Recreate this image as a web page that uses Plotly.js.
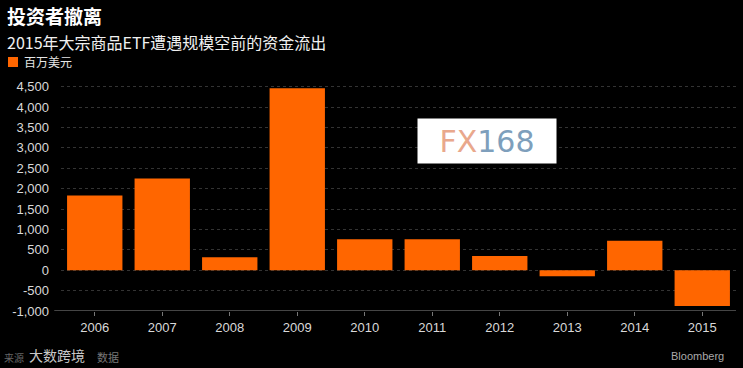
<!DOCTYPE html>
<html>
<head>
<meta charset="utf-8">
<script src="https://cdn.plot.ly/plotly-3.0.1.min.js"></script>
<style>html,body{margin:0;padding:0;background:#000;}#chart{width:743px;height:368px;}</style>
</head>
<body>
<div id="chart"></div>
<script>
const years = ['2006','2007','2008','2009','2010','2011','2012','2013','2014','2015'];
const flows = [1830, 2250, 320, 4460, 760, 760, 350, -150, 720, -880];
const seriesName = '百万美元';
const barColor = '#FF6600';
const yTickVals = [-1000,-500,0,500,1000,1500,2000,2500,3000,3500,4000,4500];
const yTickText = ['-1,000','-500','0','500','1,000','1,500','2,000','2,500','3,000','3,500','4,000','4,500'];

const cjk = '"Noto Sans CJK SC", "Liberation Sans", sans-serif';
const num = '"Liberation Sans", Arial, sans-serif';

const trace = {
  type: 'bar', x: years, y: flows, name: seriesName,
  marker: {color: barColor}, hoverinfo: 'x+y'
};

const W = 743, H = 368, L = 61, T = 80, PW = 675, PH = 231;
const px = v => (v - L) / PW;
const py = v => (T + PH - v) / PH;

const layout = {
  width: W, height: H,
  paper_bgcolor: '#000', plot_bgcolor: '#000',
  margin: {l: L, r: 7, t: T, b: 57},
  bargap: 0.18,
  showlegend: false,
  xaxis: {
    type: 'category', showgrid: false, zeroline: false,
    showline: false, ticks: 'outside', ticklen: 4, tickcolor: '#777',
    tickfont: {family: num, size: 13, color: '#d9d9d9'}
  },
  yaxis: {
    range: [-1000, 4662], tickvals: yTickVals, ticktext: yTickText,
    showgrid: true, gridcolor: '#333333', griddash: 'dot', gridwidth: 1,
    zeroline: false, showline: false, ticklabelstandoff: 11,
    tickfont: {family: num, size: 13, color: '#d9d9d9'}, ticklen: 0
  },
  shapes: [
    {type: 'line', xref: 'paper', yref: 'y', x0: -0.01, x1: 1, y0: -1000, y1: -1000,
     line: {color: '#8a8a8a', width: 1}},
    {type: 'rect', xref: 'paper', yref: 'paper', x0: px(8), x1: px(18), y0: py(67), y1: py(57),
     fillcolor: barColor, line: {width: 0}}
  ],
  annotations: [
    {text: '<b>投资者撤离</b>', xref: 'paper', yref: 'paper', x: px(5), y: py(15),
     xanchor: 'left', yanchor: 'middle', showarrow: false,
     font: {family: cjk, size: 19, color: '#ffffff'}},
    {text: '2015年大宗商品ETF遭遇规模空前的资金流出', xref: 'paper', yref: 'paper', x: px(5), y: py(42),
     xanchor: 'left', yanchor: 'middle', showarrow: false,
     font: {family: cjk, size: 16, color: '#f0f0f0'}},
    {text: seriesName, xref: 'paper', yref: 'paper', x: px(22), y: py(62),
     xanchor: 'left', yanchor: 'middle', showarrow: false,
     font: {family: cjk, size: 12, color: '#e6e6e6'}},
    {text: '<span style="color:#E9A88C">FX</span><span style="color:#7E9FBC">168</span>',
     xref: 'paper', yref: 'paper', x: px(487), y: py(141),
     xanchor: 'center', yanchor: 'middle', showarrow: false,
     bgcolor: '#ffffff', borderpad: 4, width: 130, height: 36,
     font: {family: '"DejaVu Sans", sans-serif', size: 30, color: '#7E9FBC'}},
    {text: 'Bloomberg', xref: 'paper', yref: 'paper', x: px(726), y: py(356),
     xanchor: 'right', yanchor: 'middle', showarrow: false,
     font: {family: num, size: 11, color: '#aaaaaa'}},
    {text: '来源', xref: 'paper', yref: 'paper', x: px(2), y: py(357),
     xanchor: 'left', yanchor: 'middle', showarrow: false,
     font: {family: cjk, size: 10, color: '#666666'}},
    {text: '大数跨境', xref: 'paper', yref: 'paper', x: px(27), y: py(355),
     xanchor: 'left', yanchor: 'middle', showarrow: false,
     font: {family: cjk, size: 14, color: '#c8c8c8'}},
    {text: '数据', xref: 'paper', yref: 'paper', x: px(95), y: py(357),
     xanchor: 'left', yanchor: 'middle', showarrow: false,
     font: {family: cjk, size: 11, color: '#777777'}}
  ]
};

Plotly.newPlot('chart', [trace], layout, {displayModeBar: false, staticPlot: true});
</script>
</body>
</html>
